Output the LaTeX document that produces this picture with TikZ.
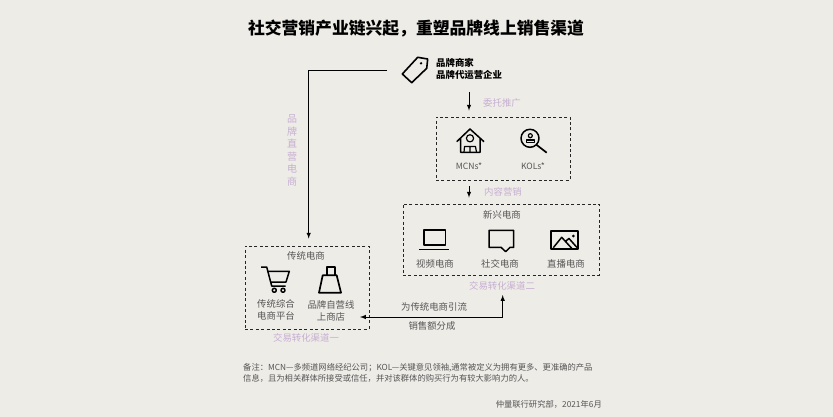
\documentclass[tikz,border=0pt]{standalone}
\usepackage{fontspec}
\setmainfont{Noto Sans CJK SC}
\usetikzlibrary{arrows,positioning}
\definecolor{paper}{HTML}{EEECE7}
\definecolor{lilac}{HTML}{C6AFD2}
\definecolor{graytext}{HTML}{555555}
\tikzstyle{channel} = [draw=black!85,line width=.85pt,dash pattern=on 3pt off 2.4pt,inner sep=0pt]
\tikzstyle{label} = [inner sep=0pt,text=graytext,align=center,font=\fontsize{9.4}{12}\selectfont]
\tikzstyle{route} = [label,text=lilac]
\tikzstyle{brandtext} = [inner sep=0pt,align=left,text=black,font=\fontsize{9.4}{12}\selectfont\bfseries]
\tikzstyle{note} = [inner sep=0pt,align=left,text=graytext,font=\fontsize{8.3}{11}\selectfont]
\tikzstyle{link} = [draw=black,line width=1pt,-latex]
\tikzstyle{icon} = [draw=black,line width=1.5pt,line join=round]

\begin{document}
\begin{tikzpicture}[x=1pt,y=-1pt]
\path [use as bounding box,fill=paper] (0,0) rectangle (833,417);

\node [inner sep=0pt,font=\fontsize{16.8}{20}\selectfont\bfseries] (title) at (416,29) {社交营销产业链兴起，重塑品牌线上销售渠道};

\node [brandtext,anchor=west] (brand) at (436,69) {品牌商家\\品牌代运营企业};
\draw [icon,line width=1.6pt] (402.3,74) -- (417.7,57.3) -- (427.7,59) -- (426.7,68.3) -- (411.7,82.7) -- cycle;
\fill (421,63.3) circle (1.3);

\node [channel,minimum width=134pt,minimum height=63pt] (kolbox) at (503,148.5) {};
\node [channel,minimum width=196pt,minimum height=71pt] (newbox) at (501,239.5) {};
\node [channel,minimum width=124pt,minimum height=83pt] (tradbox) at (307,287.5) {};

\node [route] (entrust) at (502,103) {委托推广};
\node [route] (content) at (503,192) {内容营销};
\node [route,font=\fontsize{10}{12.6}\selectfont] (direct) at (292,150.5) {品\\牌\\直\\营\\电\\商};

\node [label,font=\fontsize{8.6}{10}\selectfont] (mcn) at (469,166) {MCNs*};
\node [label,font=\fontsize{8.6}{10}\selectfont] (kol) at (533,166) {KOLs*};

\draw [icon] (456.7,141.7) -- (470,129) -- (484,141.7) (460.7,138) -- (460.7,152.3) -- (480,152.3) -- (480,138);
\draw [icon,line width=1.2pt] (470,138.3) circle (3.6);
\draw [icon,line width=1.2pt] (464,152.3) -- (464.5,146.5) -- (475.5,146.5) -- (476.5,152.3) (470,146.5) -- (470,152.3);
\draw [icon] (530,138.3) circle (9);
\draw [icon,line width=1.7pt] (536.5,144.8) -- (546.7,152.7);
\draw [icon,line width=1.2pt] (530.3,135.7) circle (2);
\draw [icon,line width=1.2pt] (526.7,142.7) rectangle (534.3,140);

\node [label] (newtitle) at (502,215) {新兴电商};
\node [label] (video) at (435,264) {视频电商};
\node [label] (social) at (500,264) {社交电商};
\node [label] (live) at (566,264) {直播电商};
\node [route] (channeltwo) at (502,286) {交易转化渠道二};

\draw [icon] (424,245) rectangle (445.7,230);
\draw [icon] (419.3,249.3) -- (449,249.3);
\draw [icon] (489,230.3) -- (513.7,230.3) -- (513.7,247.3) -- (510,247.3) -- (505.7,251.7) -- (501,247.3) -- (489,247.3) -- cycle;
\draw [icon,line width=2pt] (551,230.7) rectangle (578.3,249.3);
\draw [icon] (553.3,247.7) -- (561.7,237.3) -- (571.7,248.3) (565,241.7) -- (569,238.5) -- (577,247.5);
\fill (573.3,236) circle (1.5);

\node [label] (tradtitle) at (306,256) {传统电商};
\node [label] (platform) at (276,310) {传统综合\\电商平台};
\node [label] (ownshop) at (331,311) {品牌自营线\\上商店};
\node [route] (channelone) at (306,338) {交易转化渠道一};

\draw [icon] (261,267) -- (266.7,267) -- (271.7,286) -- (285.7,286);
\draw [icon] (267.3,271.3) -- (289.3,271.3) -- (286,282) -- (270.7,282);
\draw [icon] (274.3,290.3) circle (2) (283,290.3) circle (2);
\draw [icon,line width=1.7pt] (322.7,275.3) -- (336.7,275.3) -- (341,292.7) -- (319,292.7) -- cycle;
\draw [icon] (327,275.3) -- (327,267) -- (335,267) -- (335,275.3);

\node [label] (traffic) at (434,307) {为传统电商引流};
\node [label] (share) at (432,326) {销售额分成};

\node [note,anchor=north west] (remark) at (243,363.5) {备注：MCN—多频道网络经纪公司；KOL—关键意见领袖,通常被定义为拥有更多、更准确的产品\\信息，且为相关群体所接受或信任，并对该群体的购买行为有较大影响力的人。};
\node [note,anchor=east] (source) at (602,404) {仲量联行研究部，2021年6月};

\coordinate (tagend) at (387,71);
\coordinate (channeltip) at (502.7,295);
\coordinate (shoptip) at (360,317);
\draw [link,shorten >=7pt] (tagend) -| ([xshift=1.7pt]tradbox.north);
\draw [link,shorten <=12pt,shorten >=6pt] (mcn |- brand.south) -- (mcn |- kolbox.north);
\draw [link,shorten <=6pt,shorten >=6pt] (mcn |- kolbox.south) -- (mcn |- newbox.north);
\draw [link,latex-latex] (channeltip) |- (shoptip);
\end{tikzpicture}
\end{document}
